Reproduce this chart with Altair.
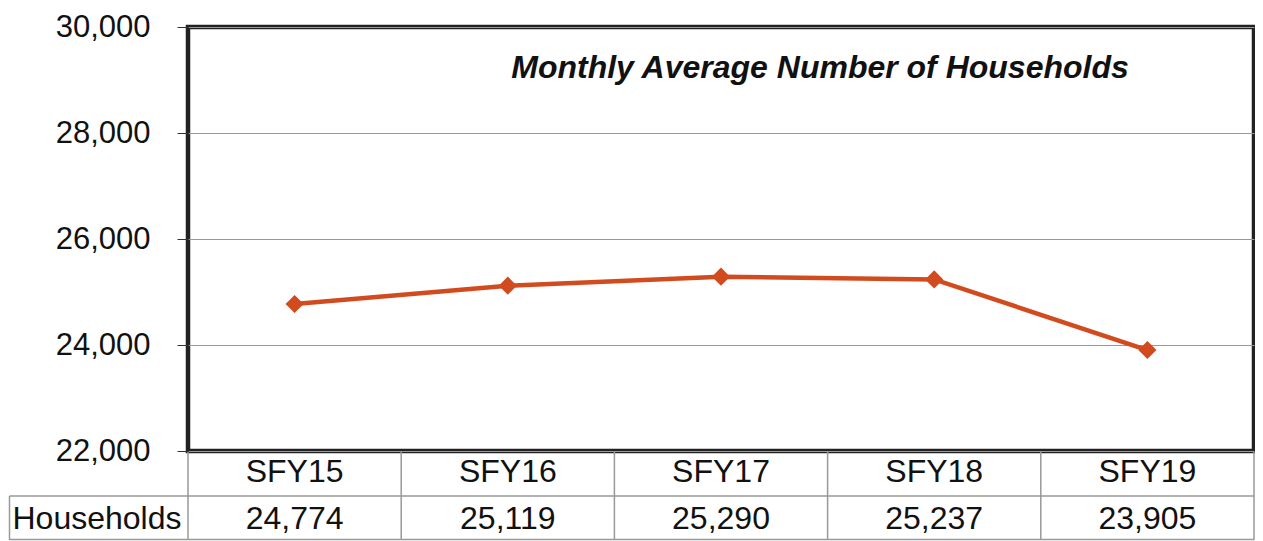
import altair as alt
import pandas as pd

categories = ["SFY15", "SFY16", "SFY17", "SFY18", "SFY19"]
households = [24774, 25119, 25290, 25237, 23905]
value_labels = ["24,774", "25,119", "25,290", "25,237", "23,905"]
y_ticks = [22000, 24000, 26000, 28000, 30000]
title_text = "Monthly Average Number of Households"
row_label = "Households"

positions = list(range(len(categories)))
edges = [p - 0.5 for p in positions]
df = pd.DataFrame({"cat": categories, "val": households, "lab": value_labels,
                   "pos": positions, "edge": edges})
title_df = pd.DataFrame({"t": [title_text]})
row_df = pd.DataFrame({"t": [row_label]})

FONT = "Liberation Sans"
LINE_COLOR = "#D24B1F"
TABLE_COLOR = "#999999"
W, H = 1066, 424

xscale = alt.Scale(domain=[-0.5, len(categories) - 0.5], nice=False, zero=False)
yscale = alt.Scale(domain=[22000, 30000], nice=False, zero=False)

base = alt.Chart(df)

line = base.mark_line(color=LINE_COLOR, strokeWidth=4.5).encode(
    x=alt.X("pos:Q", scale=xscale, axis=None),
    y=alt.Y(
        "val:Q",
        scale=yscale,
        axis=alt.Axis(
            values=y_ticks,
            format=",.0f",
            title=None,
            grid=True,
            gridColor="#999999",
            gridWidth=1,
            domain=False,
            ticks=True,
            tickSize=11,
            tickColor="#333333",
            tickWidth=1,
            labelFont=FONT,
            labelFontSize=31,
            labelColor="#111111",
            labelPadding=27,
        ),
    ),
)

points = base.mark_point(
    shape="diamond", filled=True, color=LINE_COLOR, size=330, opacity=1
).encode(
    x=alt.X("pos:Q", scale=xscale, axis=None),
    y=alt.Y("val:Q", scale=yscale),
)

title = alt.Chart(title_df).mark_text(
    font=FONT, fontSize=32, fontWeight="bold", fontStyle="italic", color="#111111"
).encode(x=alt.value(632), y=alt.value(41), text="t:N")

cat_text = base.mark_text(font=FONT, fontSize=32, color="#111111", baseline="middle").encode(
    x=alt.X("pos:Q", scale=xscale, axis=None),
    y=alt.value(445),
    text="cat:N",
)

val_text = base.mark_text(font=FONT, fontSize=32, color="#111111", baseline="middle").encode(
    x=alt.X("pos:Q", scale=xscale, axis=None),
    y=alt.value(492),
    text="lab:N",
)

row_text = alt.Chart(row_df).mark_text(font=FONT, fontSize=32, color="#111111", baseline="middle").encode(
    x=alt.value(-91), y=alt.value(492), text="t:N"
)

col_rules = base.mark_rule(color=TABLE_COLOR, strokeWidth=1.5).encode(
    x=alt.X("edge:Q", scale=xscale, axis=None),
    x2="edge:Q",
    y=alt.value(425),
    y2=alt.value(513),
)

right_rule = alt.Chart(title_df).mark_rule(color=TABLE_COLOR, strokeWidth=1.5).encode(
    x=alt.value(W), x2=alt.value(W), y=alt.value(425), y2=alt.value(513)
)

left_rule = alt.Chart(title_df).mark_rule(color=TABLE_COLOR, strokeWidth=1.5).encode(
    x=alt.value(-178.5), x2=alt.value(-178.5), y=alt.value(469), y2=alt.value(513)
)

mid_hrule = alt.Chart(title_df).mark_rule(color=TABLE_COLOR, strokeWidth=1.5).encode(
    x=alt.value(-178.5), x2=alt.value(W), y=alt.value(469)
)

bot_hrule = alt.Chart(title_df).mark_rule(color=TABLE_COLOR, strokeWidth=1.5).encode(
    x=alt.value(-178.5), x2=alt.value(W), y=alt.value(512.5)
)

chart = (
    alt.layer(
        col_rules, right_rule, left_rule, mid_hrule, bot_hrule,
        line, points, title, cat_text, val_text, row_text,
    )
    .properties(
        width=W,
        height=H,
        autosize=alt.AutoSizeParams(type="none"),
        padding={"left": 180, "top": 19, "right": 1, "bottom": 90},
        background="white",
    )
    .configure_view(stroke="#222222", strokeWidth=4.5)
)

chart.save("out.html", embed_options={"renderer": "svg", "actions": False})
